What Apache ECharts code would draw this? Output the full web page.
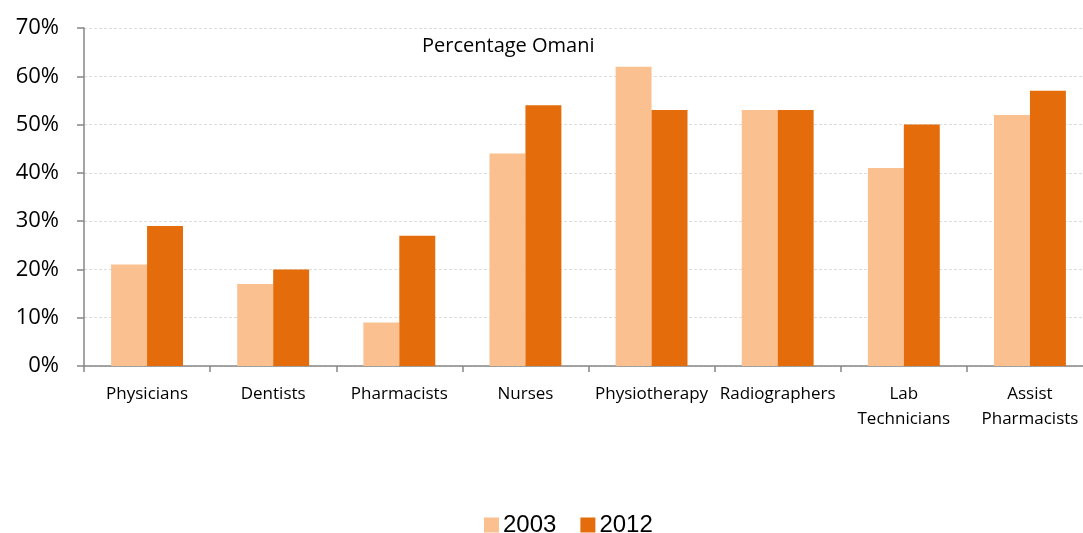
<!DOCTYPE html>
<html>
<head>
<meta charset="utf-8">
<script src="https://cdn.jsdelivr.net/npm/echarts@6/dist/echarts.min.js"></script>
<style>
  html, body { margin: 0; padding: 0; background: #fff; }
  #chart { width: 1083px; height: 533px; }
</style>
</head>
<body>
<div id="chart"></div>
<script>
// Share of Omani staff by profession
const categories = ['Physicians', 'Dentists', 'Pharmacists', 'Nurses', 'Physiotherapy', 'Radiographers', 'Lab\nTechnicians', 'Assist\nPharmacists'];
const values2003 = [21, 17, 9, 44, 62, 53, 41, 52];
const values2012 = [29, 20, 27, 54, 53, 53, 50, 57];
const seriesNames = ['2003', '2012'];

const chart = echarts.init(document.getElementById('chart'));
chart.setOption({
  animation: false,
  title: {
    text: 'Percentage Omani',
    left: 417,
    top: 31,
    textStyle: { fontFamily: 'Open Sans', fontSize: 20, fontWeight: 'normal', color: '#000' }
  },
  legend: {
    data: seriesNames,
    top: 508,
    left: 479,
    itemWidth: 15,
    itemHeight: 15,
    itemGap: 24,
    icon: 'rect',
    textStyle: { fontFamily: 'Liberation Sans', fontSize: 24, color: '#000', padding: [0, 0, 0, -1] }
  },
  // the plot runs slightly past the right edge of the canvas
  grid: { left: 84, width: 1009, top: 28, bottom: 167, containLabel: false, outerBoundsMode: 'none' },
  xAxis: {
    type: 'category',
    data: categories,
    boundaryGap: true,
    axisLine: { lineStyle: { color: '#868686', width: 1.5 } },
    axisTick: { show: true, alignWithLabel: false, length: 6, lineStyle: { color: '#868686', width: 1.5 } },
    axisLabel: { interval: 0, margin: 16, fontFamily: 'Open Sans', fontSize: 17, color: '#000', lineHeight: 25 }
  },
  yAxis: {
    type: 'value',
    min: 0,
    max: 70,
    interval: 10,
    axisLine: { show: true, lineStyle: { color: '#868686', width: 1.5 } },
    axisTick: { show: true, length: 7, lineStyle: { color: '#868686', width: 1.5 } },
    axisLabel: { formatter: '{value}%', margin: 25, fontFamily: 'Open Sans', fontSize: 22, color: '#000' },
    splitLine: { lineStyle: { color: '#dcdcdc', type: [3, 2], width: 1 } }
  },
  series: [
    {
      name: seriesNames[0],
      type: 'bar',
      data: values2003,
      barGap: '0%',
      barCategoryGap: '43%',
      itemStyle: { color: '#FAC090' }
    },
    {
      name: seriesNames[1],
      type: 'bar',
      data: values2012,
      itemStyle: { color: '#E46C0A' }
    }
  ]
});
</script>
</body>
</html>
